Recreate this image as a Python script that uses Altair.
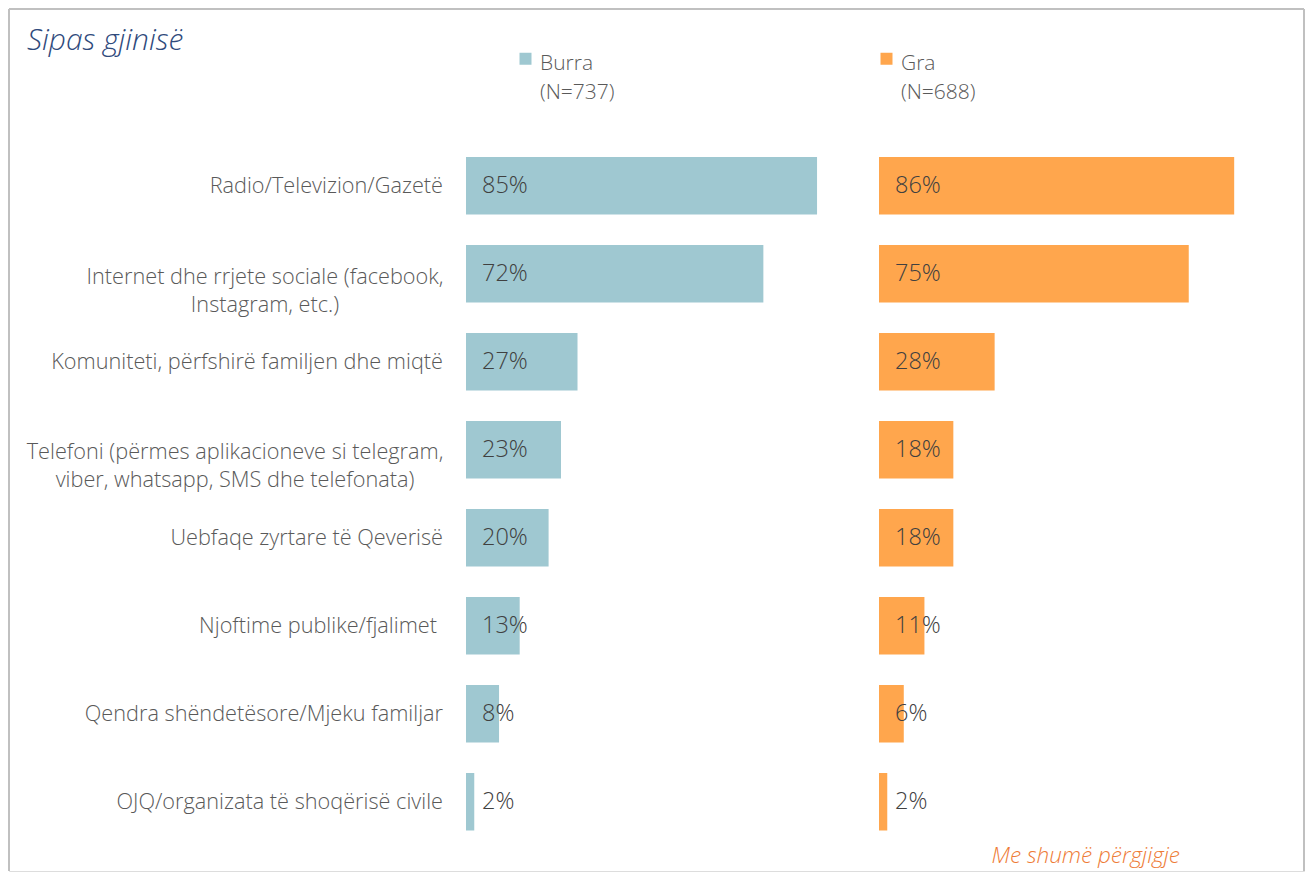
import altair as alt
import pandas as pd

categories = [
    "Radio/Televizion/Gazetë",
    "Internet dhe rrjete sociale (facebook,\nInstagram, etc.)",
    "Komuniteti, përfshirë familjen dhe miqtë",
    "Telefoni (përmes aplikacioneve si telegram,\nviber, whatsapp, SMS dhe telefonata)",
    "Uebfaqe zyrtare të Qeverisë",
    "Njoftime publike/fjalimet",
    "Qendra shëndetësore/Mjeku familjar",
    "OJQ/organizata të shoqërisë civile",
]
burra = [85, 72, 27, 23, 20, 13, 8, 2]
gra = [86, 75, 28, 18, 18, 11, 6, 2]
groups = ["Burra", "Gra"]
group_n = ["(N=737)", "(N=688)"]
colors = ["#9FC8D1", "#FFA64D"]
title_text = "Sipas gjinisë"
note_text = "Me shumë përgjigje"

rows = []
for g, vals in zip(groups, [burra, gra]):
    for c, v in zip(categories, vals):
        rows.append({"category": c, "group": g, "value": v, "label": f"{v}%"})
df = pd.DataFrame(rows)

FONT = "Open Sans"
W, H = 1295, 862
PX = 4.13           # pixels per percentage point
LEFT0 = 457         # pixel position of the left panel's zero
RIGHT0 = LEFT0 + 413
L_DOM = [-LEFT0 / PX, (W - LEFT0) / PX]
R_DOM = [-RIGHT0 / PX, (W - RIGHT0) / PX]

# label placement styles (align, dx, dy) per category index
cat_style = {
    1: ("center", -201, 3),
    3: ("center", -231, 2),
    5: ("right", -29, 0),
}

yenc = alt.Y(
    "category:N",
    sort=categories,
    axis=None,
    scale=alt.Scale(domain=categories, range=[148, 821.5], paddingInner=0.3466, paddingOuter=0),
)

label_expr = " : ".join(
    [f"datum.label == '{g}' ? ['{g}', '{n}']" for g, n in zip(groups[:-1], group_n[:-1])]
    + [f"['{groups[-1]}', '{group_n[-1]}']"]
)

legend = alt.Legend(
    orient="none", legendX=506, legendY=39, direction="horizontal", title=None,
    symbolType="square", symbolSize=144, symbolStrokeWidth=0,
    labelFont=FONT, labelFontSize=21, labelFontWeight=300, labelColor="#595959",
    labelOffset=4, labelBaseline="top", labelLimit=300, columnPadding=261,
    labelExpr=label_expr,
)
color = alt.Color("group:N", scale=alt.Scale(domain=groups, range=colors), legend=legend)

base = alt.Chart(df)


def cat_layers(src):
    styles = {}
    for i, c in enumerate(categories):
        styles.setdefault(cat_style.get(i, ("right", -23, 0)), []).append(c)
    out = []
    for (align, dx, dy), cats in styles.items():
        out.append(
            src.transform_filter(alt.FieldOneOfPredicate(field="category", oneOf=cats))
            .mark_text(
                align=align, baseline="middle", dx=dx, dy=dy, font=FONT, fontSize=21.7,
                fontWeight=300, color="#595959", lineBreak="\n", lineHeight=28,
            )
            .encode(x=alt.XDatum(0), y=yenc, text="category:N")
        )
    return out


def panel(gname, dom, with_cats):
    src = base.transform_filter(alt.datum.group == gname)
    xs = alt.Scale(domain=dom, zero=False, nice=False)
    bars = src.mark_bar().encode(
        x=alt.X("value:Q", scale=xs, axis=None), y=yenc, color=color
    )
    vals = src.mark_text(
        align="left", baseline="middle", dx=16, font=FONT, fontSize=23.5,
        fontWeight=300, color="#404040",
    ).encode(x=alt.XDatum(0), y=yenc, text="label:N")
    layers = [bars, vals]
    if with_cats:
        layers += cat_layers(src)
    return alt.layer(*layers)


one = alt.Data(values=[{"k": 0}])
frame_top = alt.Chart(one).mark_rule(color="#C0C0C0", strokeWidth=2).encode(
    x=alt.value(0), x2=alt.value(W), y=alt.value(0))
frame_left = alt.Chart(one).mark_rule(color="#C0C0C0", strokeWidth=2).encode(
    x=alt.value(0), y=alt.value(0), y2=alt.value(H))
frame_right = alt.Chart(one).mark_rule(color="#C0C0C0", strokeWidth=2).encode(
    x=alt.value(W), y=alt.value(0), y2=alt.value(H))

title = alt.Chart(one).mark_text(
    align="left", baseline="alphabetic", font=FONT, fontSize=30, fontStyle="italic",
    fontWeight=300, color="#2F4A7C",
).encode(x=alt.value(18), y=alt.value(41), text=alt.value(title_text))

note = alt.Chart(one).mark_text(
    align="right", baseline="alphabetic", font=FONT, fontSize=22.5, fontStyle="italic",
    fontWeight=300, color="#EE7B36",
).encode(x=alt.value(1171), y=alt.value(854), text=alt.value(note_text))

chart = (
    alt.layer(
        frame_top, frame_left, frame_right, title, note,
        panel("Burra", L_DOM, True), panel("Gra", R_DOM, False),
    )
    .resolve_scale(x="independent")
    .properties(width=W, height=H, padding=1, autosize=alt.AutoSizeParams(type="none"))
    .configure_view(stroke=None)
    .configure(style={"guide-label": {"lineHeight": 29, "dy": -6}})
)

chart.save("out.html", embed_options={"renderer": "svg", "actions": False})
